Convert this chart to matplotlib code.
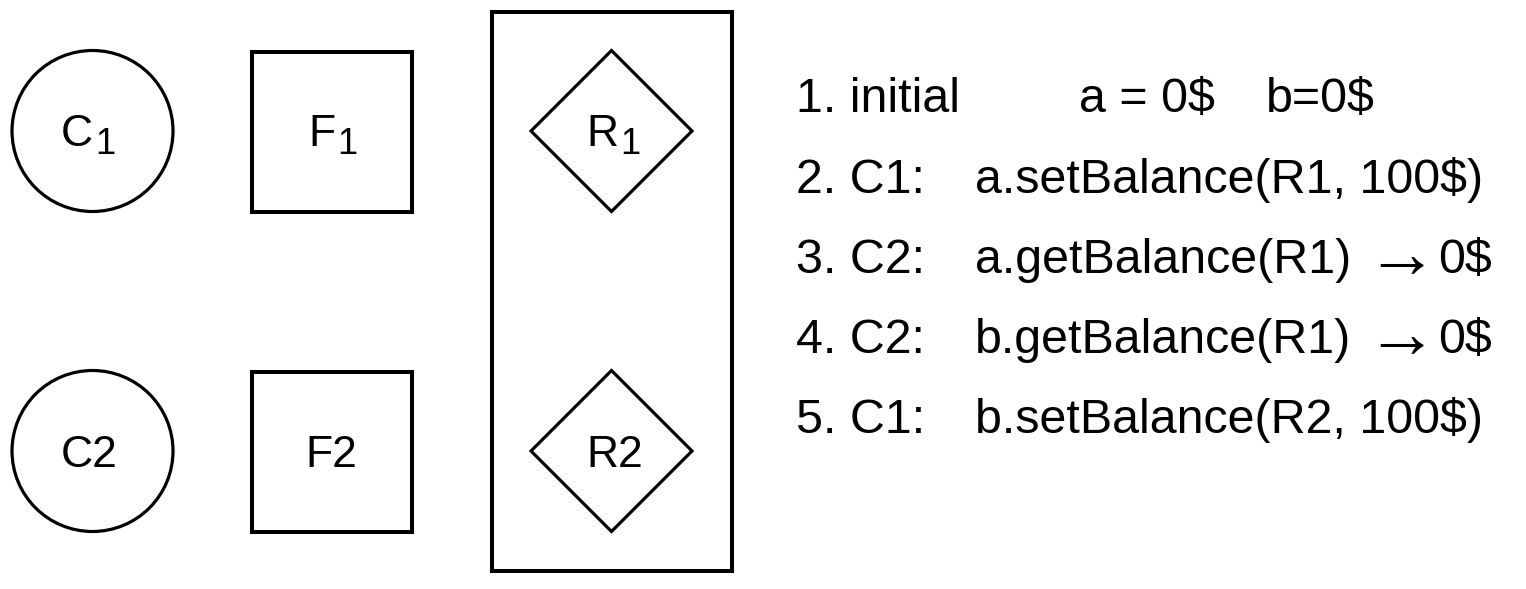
import matplotlib
matplotlib.use("Agg")
import matplotlib.pyplot as plt
from matplotlib.patches import Circle, Rectangle, Polygon

plt.rcParams['font.family'] = ['Liberation Sans', 'DejaVu Sans']

# node labels (main letter, subscript); row 2 labels are plain text in the source
client_labels = [("C", "1"), ("C2", "")]
frontend_labels = [("F", "1"), ("F2", "")]
replica_labels = [("R", "1"), ("R2", "")]

# the numbered steps on the right: (step, call, result)
step_heads = ["1. initial", "2. C1:", "3. C2:", "4. C2:", "5. C1:"]
step_calls = ["", "a.setBalance(R1, 100$)", "a.getBalance(R1)",
              "b.getBalance(R1)", "b.setBalance(R2, 100$)"]
step_results = ["", "", "0$", "0$", ""]
initial_values = ["a = 0$", "b=0$"]

# layout in pixels
W, H = 1526, 589
row_y = [131, 451]
fig = plt.figure(figsize=(W / 100, H / 100), dpi=100)
ax = fig.add_axes([0, 0, 1, 1])
ax.set_xlim(0, W)
ax.set_ylim(H, 0)
ax.axis('off')

thin = 2.3
thick = 2.9
half = 80.5


def node_label(cx, cy, lab):
    main, sub = lab
    if sub:
        ax.text(cx + 5, cy + 15, main, fontsize=32, ha='right', va='baseline')
        ax.text(cx + 7, cy + 23, sub, fontsize=26, ha='left', va='baseline')
    else:
        ax.text(cx + 1, cy + 16, main, fontsize=32, ha='center', va='baseline')


for i, cy in enumerate(row_y):
    ax.add_patch(Circle((92.5, cy), half, fill=False, lw=thin, ec='black'))
    node_label(88, cy, client_labels[i])

    ax.add_patch(Rectangle((252, cy - 79), 160, 160, fill=False, lw=thick, ec='black'))
    node_label(330, cy, frontend_labels[i])

    cx = 611.5
    ax.add_patch(Polygon([(cx, cy - half), (cx + half, cy), (cx, cy + half), (cx - half, cy)],
                         closed=True, fill=False, lw=thin, ec='black', joinstyle='miter'))
    node_label(cx + 2, cy, replica_labels[i])

ax.add_patch(Rectangle((492, 12), 240, 559, fill=False, lw=thick, ec='black'))

# step list
fs = 34.8
base_y = [112, 193, 273, 353, 433]
for i, y in enumerate(base_y):
    ax.text(796, y, step_heads[i], fontsize=fs, ha='left', va='baseline')
    if step_calls[i]:
        ax.text(975, y, step_calls[i], fontsize=fs, ha='left', va='baseline')
    if step_results[i]:
        ax.text(1401, y + 4, "\u2192", fontsize=52, ha='center', va='baseline')
        ax.text(1438, y, step_results[i], fontsize=fs, ha='left', va='baseline')

ax.text(1079, base_y[0], initial_values[0], fontsize=fs, ha='left', va='baseline')
ax.text(1266, base_y[0], initial_values[1], fontsize=fs, ha='left', va='baseline')

fig.savefig("out.png", dpi=100)
